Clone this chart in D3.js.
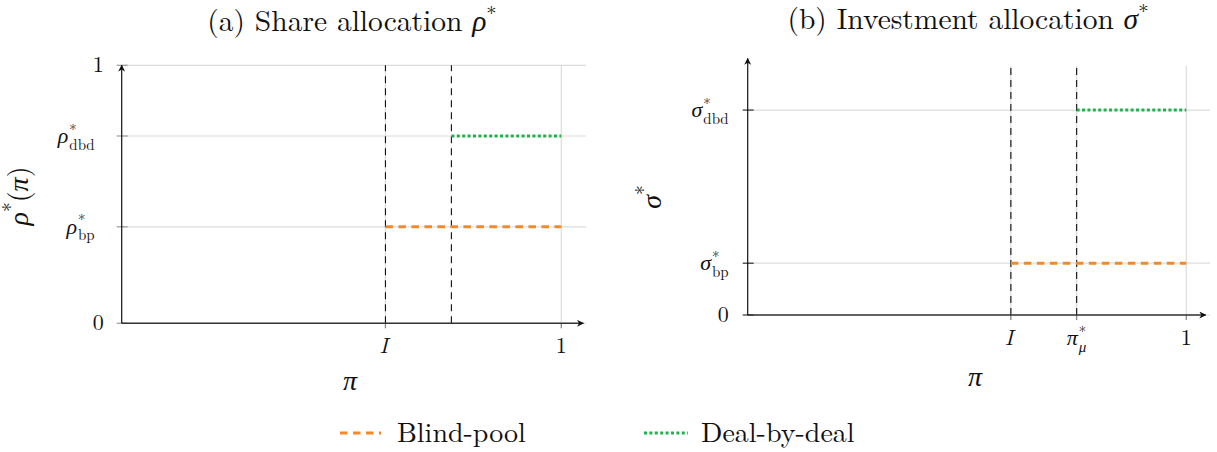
<!DOCTYPE html>
<html><head><meta charset="utf-8">
<script src="https://cdn.jsdelivr.net/npm/d3@7"></script>
<style>body{margin:0;background:#fff;}</style></head>
<body><svg id="c" width="1217" height="452"></svg>
<script>
// ---- data ----
const I_VAL = 0.6;          // threshold I
const PI_MU = 0.75;         // threshold pi*_mu
const leftYTicks = [0, 0.374, 0.726, 1];
const leftYLabels = [["0"], ["ρ","*","bp"], ["ρ","*","dbd"], ["1"]];
const leftXTicks = [I_VAL, 1];
const leftXLabels = [["I"], ["1"]];
const rightYTicks = [0, 0.208, 0.823];
const rightYLabels = [["0"], ["σ","*","bp"], ["σ","*","dbd"]];
const rightXTicks = [I_VAL, PI_MU, 1];
const rightXLabels = [["I"], ["π","*","μ"], ["1"]];
const vlines = [I_VAL, PI_MU];
const blindPool = {left:{from:I_VAL,to:1,value:0.374}, right:{from:I_VAL,to:1,value:0.208}};
const dealByDeal = {left:{from:PI_MU,to:1,value:0.726}, right:{from:PI_MU,to:1,value:0.823}};
const seriesNames = ["Blind-pool","Deal-by-deal"];

const ORANGE = "#f08a2c", GREEN = "#23b14d";
const FONT = '"Latin Modern Roman", "Liberation Serif", serif';
const FS = 22, BIG = 28, TITLE = 29.5;
const svg = d3.select("#c");
function txt(sel){ return sel.append("text").style("font-family",FONT).attr("fill","#111"); }

function mathLabel(g, x, y, parts, anchor, size, extra){
  const grp = g.append("g");
  const t = txt(grp).attr("x",0).attr("y",0).attr("font-size",size);
  const italic = /[ρσπμI]/.test(parts[0]);
  const b = t.append("tspan").attr("font-style", italic ? "italic" : "normal").text(parts[0]);
  if(parts.length>1){
    const w = b.node().getComputedTextLength();
    t.append("tspan").attr("font-size",size*0.68).attr("dy",-size*0.38).attr("dx",1).text(parts[1]);
    t.append("tspan").attr("x",w+1).attr("dy",size*0.68).attr("font-size",size*0.68)
      .attr("font-style", /μ/.test(parts[2])?"italic":"normal").text(parts[2]);
  }
  const bb = grp.node().getBBox();
  let ox = anchor==="end" ? -(bb.x+bb.width) : anchor==="middle" ? -(bb.x+bb.width/2) : 0;
  if(parts.length>1) ox -= (extra||0);
  grp.attr("transform",`translate(${x+ox},${y})`);
  return grp;
}

function panel(cfg){
  const g = svg.append("g");
  const x = d3.scaleLinear().domain([0,1]).range(cfg.xr);
  const y = d3.scaleLinear().domain([0,1]).range(cfg.yr);
  g.selectAll(".hg").data(cfg.yTicks).join("line")
    .attr("x1",x(0)).attr("x2",cfg.gridRight).attr("y1",d=>y(d)).attr("y2",d=>y(d))
    .attr("stroke","#dcdcdc").attr("stroke-width",1.2);
  g.selectAll(".vg").data(cfg.xTicks).join("line")
    .attr("x1",d=>x(d)).attr("x2",d=>x(d)).attr("y1",y(0)+5).attr("y2",y(1))
    .attr("stroke","#dcdcdc").attr("stroke-width",1.2);
  g.selectAll(".yt").data(cfg.yTicks).join("line")
    .attr("x1",x(0)-5).attr("x2",x(0)+6).attr("y1",d=>y(d)).attr("y2",d=>y(d))
    .attr("stroke",cfg.tickCol).attr("stroke-width",1.2);
  g.selectAll(".xt").data(cfg.xTicks).join("line")
    .attr("x1",d=>x(d)).attr("x2",d=>x(d)).attr("y1",y(0)).attr("y2",y(0)+5)
    .attr("stroke","#888").attr("stroke-width",1.2);
  g.selectAll(".vl").data(vlines).join("line")
    .attr("x1",d=>x(d)).attr("x2",d=>x(d)).attr("y1",y(0)).attr("y2",y(1))
    .attr("stroke","#111").attr("stroke-width",1.1).attr("stroke-dasharray","7,5");
  g.append("line").attr("x1",x(0)).attr("x2",x(cfg.xArrow)).attr("y1",y(0)).attr("y2",y(0))
    .attr("stroke","#333").attr("stroke-width",1.6).attr("marker-end","url(#arr)");
  g.append("line").attr("x1",x(0)).attr("x2",x(0)).attr("y1",y(0)).attr("y2",y(cfg.yArrow))
    .attr("stroke","#111").attr("stroke-width",1.2).attr("marker-end","url(#arr)");
  const bp = cfg.bp, dbd = cfg.dbd;
  g.append("line").attr("x1",x(bp.from)).attr("x2",x(bp.to)).attr("y1",y(bp.value)).attr("y2",y(bp.value))
    .attr("stroke",ORANGE).attr("stroke-width",3).attr("stroke-dasharray","7.5,5.5");
  g.append("line").attr("x1",x(dbd.from)).attr("x2",x(dbd.to)).attr("y1",y(dbd.value)).attr("y2",y(dbd.value))
    .attr("stroke",GREEN).attr("stroke-width",3).attr("stroke-dasharray","3,2.4");
  cfg.yTicks.forEach((v,i)=>mathLabel(g, x(0)-cfg.yLabGap, y(v)+7, cfg.yLabels[i], "end", FS, cfg.multiShift));
  cfg.xTicks.forEach((v,i)=>mathLabel(g, x(v), y(0)+30, cfg.xLabels[i], "middle", FS, 0));
  txt(g).attr("x",cfg.xLabPos[0]).attr("y",cfg.xLabPos[1]).attr("text-anchor","middle")
    .attr("font-size",BIG).attr("font-style","italic").text("π");
  const yl = txt(g).attr("transform",`translate(${cfg.yLabPos[0]},${cfg.yLabPos[1]}) rotate(-90)`)
    .attr("text-anchor","middle").attr("font-size",BIG);
  cfg.yTitle(yl);
  const t = txt(g).attr("x",cfg.titlePos[0]).attr("y",cfg.titlePos[1]).attr("text-anchor","middle").attr("font-size",TITLE);
  t.append("tspan").text(cfg.title[0]);
  t.append("tspan").attr("font-style","italic").text(cfg.title[1]);
  t.append("tspan").attr("dy",-10).attr("font-size",TITLE*0.7).text("*");
}

function draw(){
  const defs = svg.append("defs");
  defs.append("marker").attr("id","arr").attr("viewBox","0 0 10 10").attr("refX",9).attr("refY",5)
    .attr("markerWidth",7).attr("markerHeight",7).attr("orient","auto-start-reverse").attr("markerUnits","userSpaceOnUse")
    .append("path").attr("d","M0,0 L10,5 L0,10 L3,5 Z").attr("fill","#111");

  panel({xr:[121.7,561.3], yr:[323.3,65.3], gridRight:586, xArrow:1.05, yArrow:1.0, yLabGap:18, multiShift:9,
    yTicks:leftYTicks, yLabels:leftYLabels, xTicks:leftXTicks, xLabels:leftXLabels, tickCol:"#999",
    bp:blindPool.left, dbd:dealByDeal.left, xLabPos:[350,390], yLabPos:[28,196],
    yTitle:(t)=>{t.append("tspan").attr("font-style","italic").text("ρ");t.append("tspan").attr("dy",-11).attr("font-size",BIG*0.7).text("*");t.append("tspan").attr("dy",11).text("(");t.append("tspan").attr("font-style","italic").text("π");t.append("tspan").text(")");},
    title:["(a) Share allocation ","ρ"], titlePos:[352,31]});

  panel({xr:[747.7,1186.3], yr:[315,66], gridRight:1210, xArrow:1.044, yArrow:1.03, yLabGap:19, multiShift:0,
    yTicks:rightYTicks, yLabels:rightYLabels, xTicks:rightXTicks, xLabels:rightXLabels, tickCol:"#333",
    bp:blindPool.right, dbd:dealByDeal.right, xLabPos:[975,386], yLabPos:[661,197],
    yTitle:(t)=>{t.append("tspan").attr("font-style","italic").text("σ");t.append("tspan").attr("dy",-11).attr("font-size",BIG*0.7).text("*");},
    title:["(b) Investment allocation ","σ"], titlePos:[968,29]});

  const lg = svg.append("g");
  const legY = 433;
  lg.append("line").attr("x1",340).attr("x2",381).attr("y1",legY).attr("y2",legY)
    .attr("stroke",ORANGE).attr("stroke-width",3).attr("stroke-dasharray","7.5,5.5");
  txt(lg).attr("x",397).attr("y",legY+9).attr("font-size",BIG).text(seriesNames[0]);
  lg.append("line").attr("x1",644).attr("x2",688).attr("y1",legY).attr("y2",legY)
    .attr("stroke",GREEN).attr("stroke-width",3).attr("stroke-dasharray","3,2.4");
  txt(lg).attr("x",701).attr("y",legY+9).attr("font-size",BIG).text(seriesNames[1]);
}
if (document.fonts && document.fonts.ready) document.fonts.ready.then(draw); else draw();
</script></body></html>
